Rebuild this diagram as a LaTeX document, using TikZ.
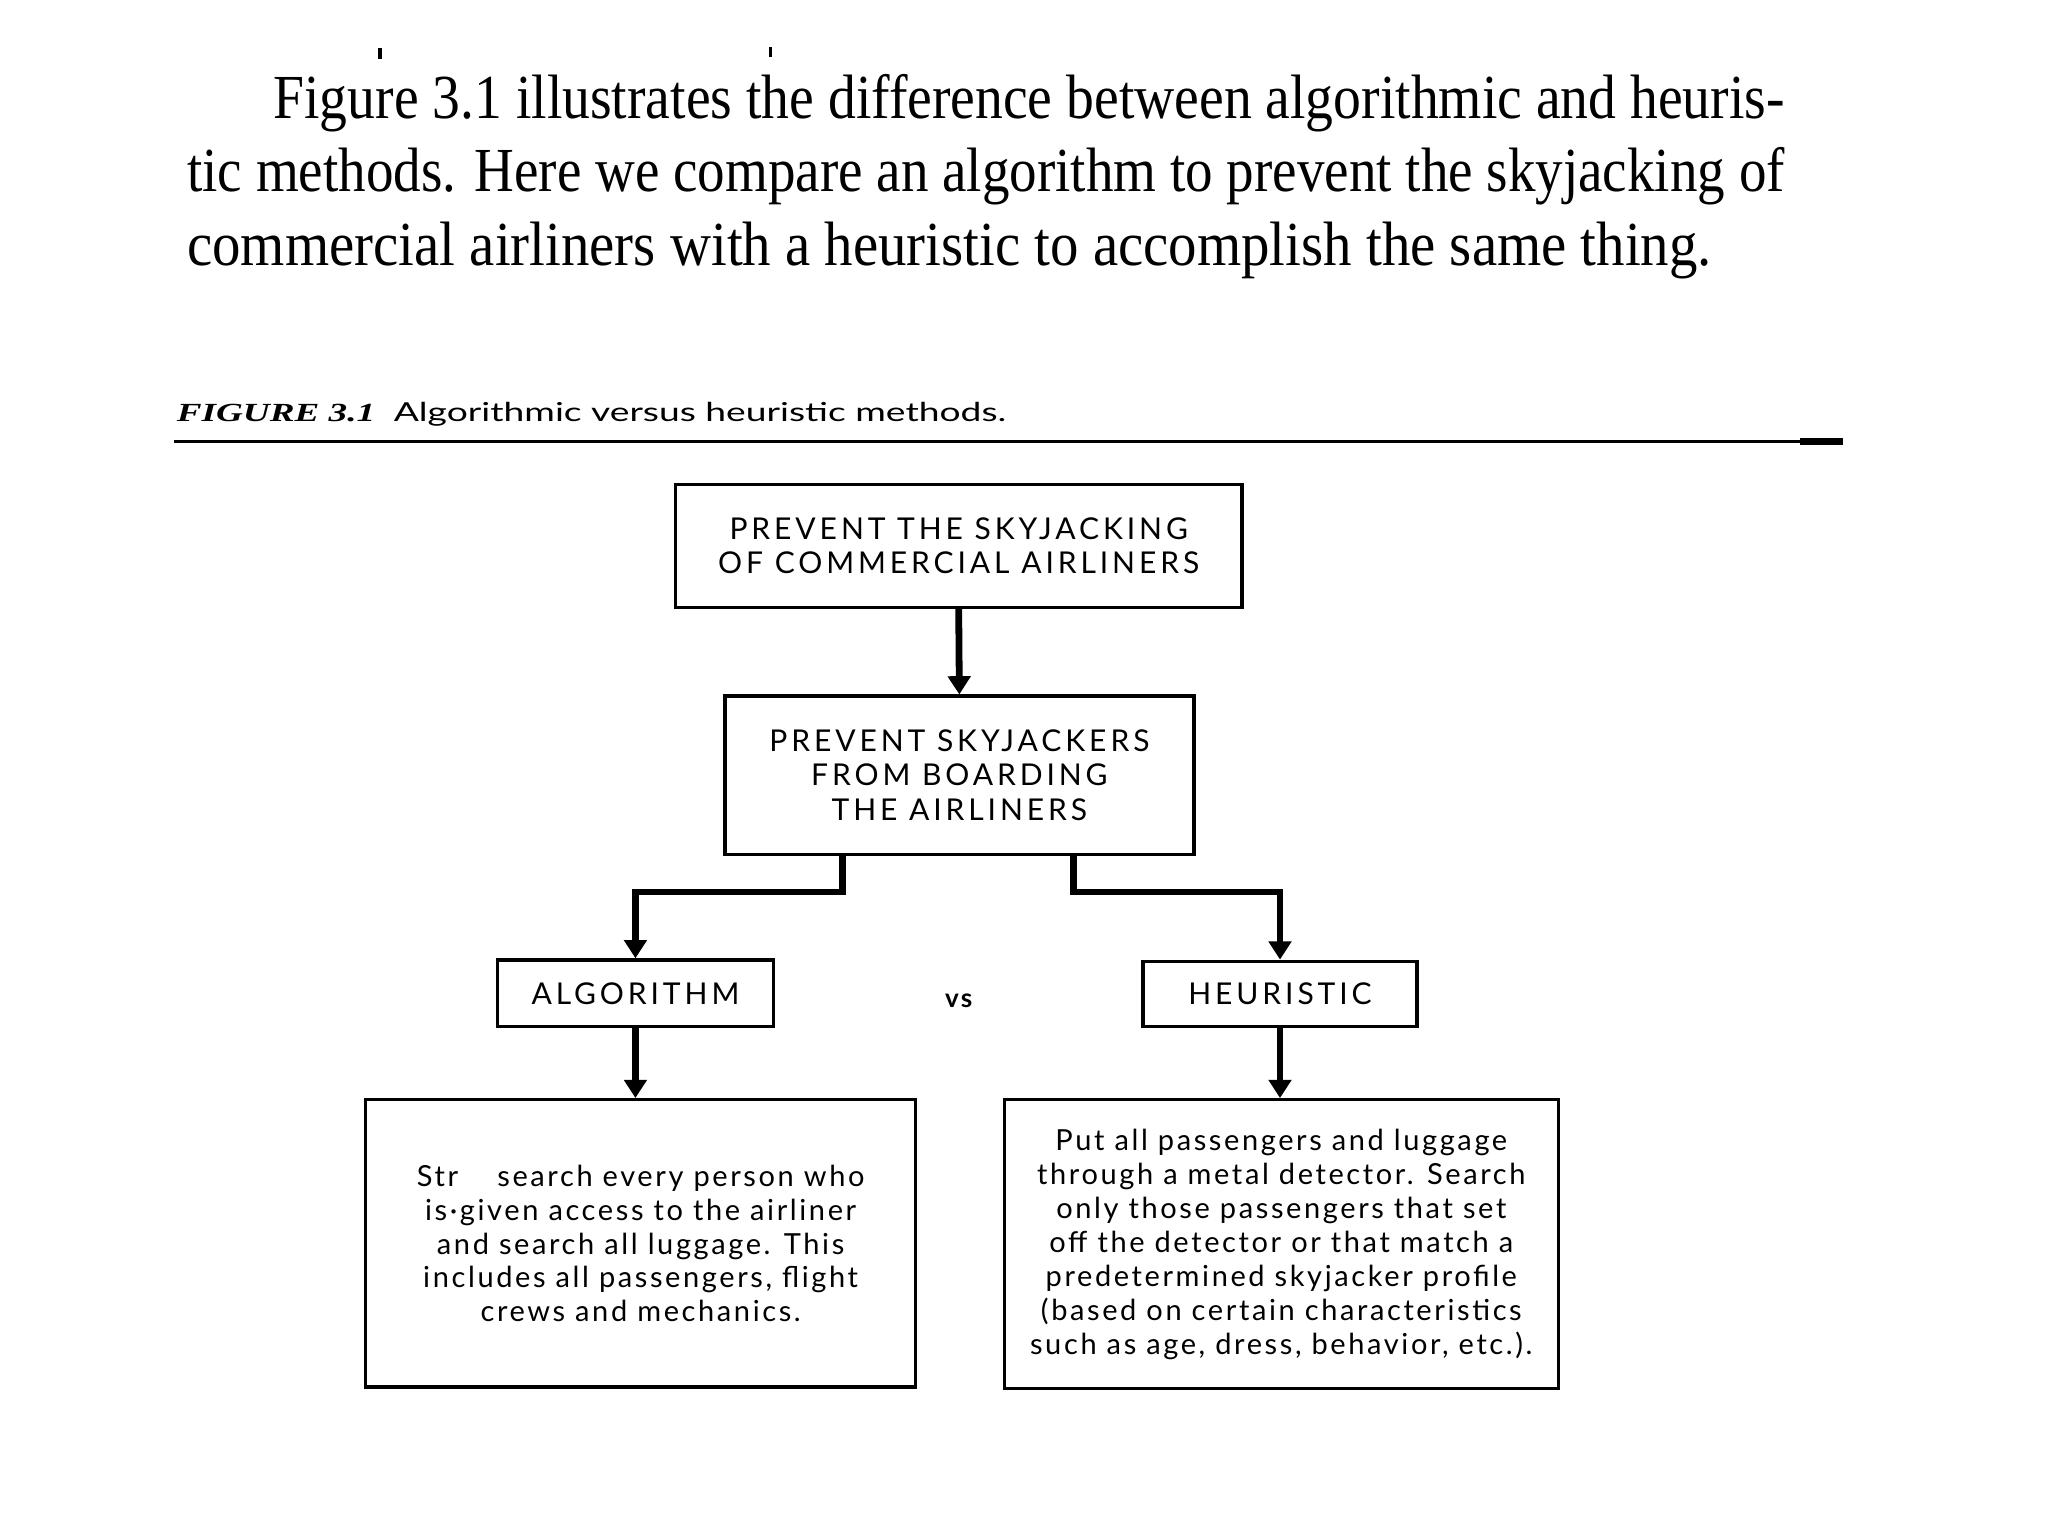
\documentclass[tikz,border=0pt]{standalone}
\usepackage{fontspec}
\usepackage{graphicx}
\usetikzlibrary{arrows.meta}
\setmainfont{Liberation Serif}
\newfontfamily\diag[LetterSpace=9]{Lato}
\newfontfamily\diagcaps[LetterSpace=13]{Lato}
\newfontfamily\capsans{Lato}
\tikzset{
  box/.style={draw, line width=1.3pt, inner sep=0pt, align=center,
    font=\diag\fontsize{11.1}{13}\selectfont},
  capbox/.style={box, font=\diagcaps\fontsize{11.5}{13.2}\selectfont},
  conn/.style={line width=2.6pt, line join=miter, -{Triangle[length=7pt 0,width=8.5pt 0]}},
  bodyline/.style={anchor=base west, inner sep=0pt, font=\fontsize{24}{28}\selectfont},
}
\begin{document}
\begin{tikzpicture}[x=0.5pt,y=-0.5pt]
\useasboundingbox (0,0) rectangle (1568,1176);
\fill[white] (0,0) rectangle (1568,1176);
% remnants of the line above
\draw[line width=1.4pt] (291,37) -- (291,45);
\draw[line width=1.4pt] (590,36) -- (590,44);
% body text
\node[bodyline] (t1) at (209,90.5) {\resizebox{578.5pt}{\height}{Figure 3.1 illustrates the difference between algorithmic and heuris-}};
\node[bodyline] (t2) at (143,147) {\resizebox{611.5pt}{\height}{tic methods. Here we compare an algorithm to prevent the skyjacking of}};
\node[bodyline] (t3) at (143,203) {\resizebox{583.5pt}{\height}{commercial airliners with a heuristic to accomplish the same thing.}};
% caption
\node[anchor=base west, inner sep=0pt] (cap) at (135,323) {\resizebox{317.5pt}{\height}{\fontsize{10}{12}\selectfont\textbf{\textit{FIGURE 3.1}}\hspace{0.5em}{\capsans Algorithmic versus heuristic methods.}}};
\draw[line width=1pt] (133,338) -- (1411,338);
\fill (1378,335.5) rectangle (1411,340.5);
% boxes
\node[capbox, minimum width=217pt, minimum height=47pt] (b1) at (734,418) {PREVENT THE SKYJACKING\\OF COMMERCIAL AIRLINERS};
\node[capbox, minimum width=179.5pt, minimum height=60.5pt] (b2) at (734.5,593.5) {PREVENT SKYJACKERS\\FROM BOARDING\\THE AIRLINERS};
\node[capbox, minimum width=105.5pt, minimum height=25.5pt] (b3) at (486.5,760.5) {ALGORITHM};
\node[capbox, minimum width=105pt, minimum height=25pt] (b4) at (980,761) {HEURISTIC};
\node[font=\diag\fontsize{10}{12}\selectfont\bfseries, inner sep=0pt] (vs) at (734,766) {vs};
\node[box, minimum width=210.5pt, minimum height=110pt] (b5) at (490.5,952) {Str\hspace{15pt}search every person who\\is·given access to the airliner\\and search all luggage. This\\includes all passengers, flight\\crews and mechanics.};
\node[box, minimum width=212pt, minimum height=110.5pt] (b6) at (981,952.5) {Put all passengers and luggage\\through a metal detector. Search\\only those passengers that set\\off the detector or that match a\\predetermined skyjacker profile\\(based on certain characteristics\\such as age, dress, behavior, etc.).};
% connectors
\coordinate (jl) at (645,683);
\coordinate (jr) at (822,683);
\draw[conn] (b1.south) -- (b2.north);
\draw[conn] (b2.south -| jl) -- (jl) -| (b3.north);
\draw[conn] (b2.south -| jr) -- (jr) -| (b4.north);
\draw[conn] (b3.south) -- (b3.south |- b5.north);
\draw[conn] (b4.south) -- (b4.south |- b6.north);
\end{tikzpicture}
\end{document}
